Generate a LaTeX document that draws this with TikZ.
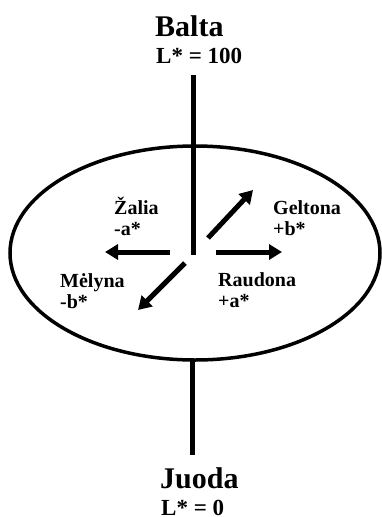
\documentclass[tikz,border=0pt]{standalone}
\usepackage{fontspec}
\setmainfont{Liberation Serif}
\usetikzlibrary{arrows.meta,shapes.geometric}
\tikzset{
  big/.style={inner sep=0pt, anchor=base west, font=\fontsize{30}{36}\selectfont\bfseries},
  lval/.style={inner sep=0pt, anchor=base west, font=\fontsize{23}{28}\selectfont\bfseries},
  lab/.style={inner sep=0pt, anchor=base west, align=left, font=\fontsize{20}{21}\selectfont\bfseries},
  axis/.style={line width=5pt},
  arr/.style={line width=5pt, -{Triangle[length=13pt,width=15pt]}},
  ring/.style={line width=3.5pt}
}
\begin{document}
\begin{tikzpicture}[x=1pt,y=-1pt]
\useasboundingbox (0,0) rectangle (382,517);
% ellipse
\node[draw, ring, ellipse, minimum width=370pt, minimum height=214pt, inner sep=0pt] (ell) at (195,253) {};
% axis points
\coordinate (top) at (193,75);
\coordinate (ctr) at (193,255);
\coordinate (bot) at (192,455);
\draw[axis] (top) -- (ctr);
\coordinate (botstart) at (192,360);
\draw[axis] (botstart) -- (bot);
% arrow tails and tips
\coordinate (lt) at (170,252); \coordinate (lh) at (105,252);
\coordinate (rt) at (216,252); \coordinate (rh) at (282,252);
\coordinate (nt) at (208,238); \coordinate (nh) at (253,190);
\coordinate (st) at (185,263); \coordinate (sh) at (138,310);
\draw[arr] (lt) -- (lh);
\draw[arr] (rt) -- (rh);
\draw[arr] (nt) -- (nh);
\draw[arr] (st) -- (sh);
% titles
\node[big] (balta) at (155,36) {Balta};
\node[lval] (lhi) at (156,63) {L* = 100};
\node[big] (juoda) at (160,488) {Juoda};
\node[lval] (llo) at (161,515) {L* = 0};
% labels (base = baseline of last line)
\node[lab] (zal) at (114,235) {Žalia\\-a*};
\node[lab] (gel) at (273,235) {Geltona\\+b*};
\node[lab] (mel) at (60,308) {Mėlyna\\-b*};
\node[lab] (rau) at (218,307) {Raudona\\+a*};
\end{tikzpicture}
\end{document}
